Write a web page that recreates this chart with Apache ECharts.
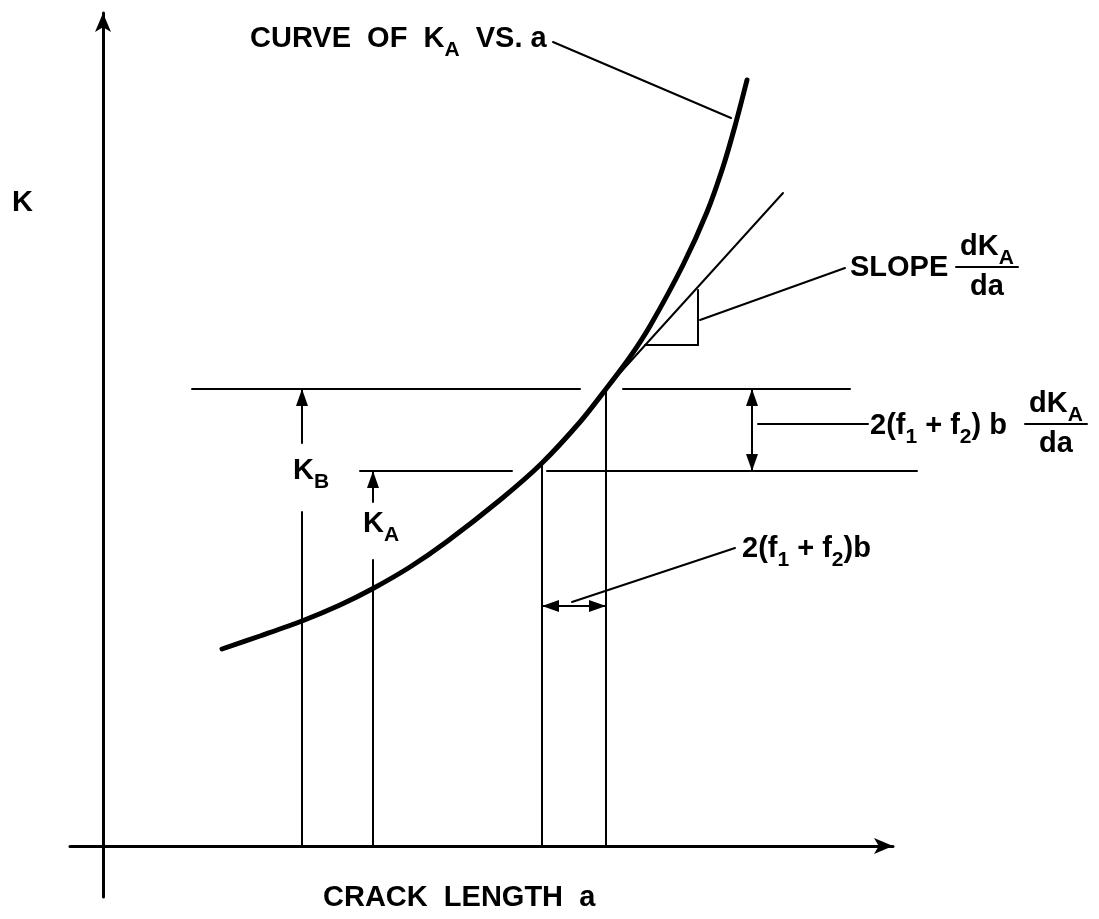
<!DOCTYPE html>
<html>
<head>
<meta charset="utf-8">
<title>K vs crack length</title>
<script src="https://cdn.jsdelivr.net/npm/echarts@6/dist/echarts.min.js"></script>
<style>
  html, body { margin: 0; padding: 0; background: #fff; }
  #chart { width: 1099px; height: 919px; }
</style>
</head>
<body>
<div id="chart"></div>
<script>
// sketch units: a = crack length, K = stress intensity (origin where the axes cross)

// curve of K_A vs. a
const curveA = [11.9, 15.7, 19.9, 23.7, 27.0, 30.7, 34.4, 39.7, 43.8, 47.7, 50.3, 52.7, 54.7, 58.0, 60.4, 62.0, 63.2, 64.4];
const curveK = [19.7, 21.0, 22.5, 24.1, 25.75, 27.9, 30.45, 34.6, 38.2, 42.4, 45.7, 48.9, 52.0, 58.1, 63.4, 67.9, 72.0, 76.6];

// thin construction lines [a1, K1, a2, K2]
const guideLines = [
	[8.9, 45.7, 47.7, 45.7],    // K_B level
	[52.0, 45.7, 74.7, 45.7],
	[25.7, 37.5, 40.9, 37.5],   // K_A level
	[44.4, 37.5, 81.4, 37.5],
	[19.9, 0, 19.9, 33.4],
	[27.0, 0, 27.0, 28.6],
	[43.9, 0, 43.9, 38.3],
	[50.3, 0, 50.3, 45.7],
	[49.7, 45.1, 68.0, 65.3],   // tangent
	[59.5, 55.6, 59.5, 50.1],   // slope triangle
	[54.2, 50.1, 59.5, 50.1],
	[59.7, 52.6, 74.2, 57.8],   // leader to SLOPE
	[45.0, 80.4, 62.8, 72.8],   // leader to curve title
	[65.5, 42.2, 76.5, 42.2],   // leader to K difference
	[46.9, 24.4, 63.2, 29.8]    // leader to crack step
];

// lines with arrowheads [a1, K1, a2, K2, heads]  heads: 1 = at end, 2 = both ends
const arrowLines = [
	[19.9, 40.3, 19.9, 45.7, 1],
	[27.0, 34.4, 27.0, 37.5, 1],
	[64.9, 37.5, 64.9, 45.7, 2],
	[43.9, 24.0, 50.3, 24.0, 2]
];

// labels, anchored at left end of the baseline ( _X = subscript )
const labelText = ['CURVE  OF  K_A  VS. a', 'K', 'SLOPE', '2(f_1 + f_2) b', 'K_B', 'K_A', '2(f_1 + f_2)b', 'CRACK  LENGTH  a'];
const labelA = [14.7, -9.1, 74.7, 76.7, 19.0, 26.0, 63.9, 22.0];
const labelK = [79.8, 63.4, 56.9, 41.1, 36.6, 31.3, 28.8, -6.1];

// fractions dK_A / da, anchored at left end of the bar
const fracNum = ['dK_A', 'dK_A'];
const fracDen = ['da', 'da'];
const fracA = [85.3, 92.2];
const fracK = [57.9, 42.2];

var fontFamily = '"Liberation Sans", Arial, sans-serif';
var richStyles = {
	m: { fontSize: 29, fontWeight: 'bold', fontFamily: fontFamily, lineHeight: 44, verticalAlign: 'middle', fill: '#000' },
	s: { fontSize: 21, fontWeight: 'bold', fontFamily: fontFamily, lineHeight: 20, verticalAlign: 'bottom', fill: '#000' }
};

function toRich(str) {
	return str.split(/(_\w)/).filter(function (t) { return t.length > 0; }).map(function (t) {
		return t[0] === '_' ? '{s|' + t.slice(1) + '}' : '{m|' + t + '}';
	}).join('');
}

function segment(p1, p2, w) {
	return {
		type: 'line',
		shape: { x1: p1[0], y1: p1[1], x2: p2[0], y2: p2[1] },
		style: { stroke: '#000', lineWidth: w, lineCap: 'round' }
	};
}

function arrowHead(tip, from) {
	var dx = tip[0] - from[0], dy = tip[1] - from[1];
	var d = Math.sqrt(dx * dx + dy * dy) || 1;
	var ux = dx / d, uy = dy / d;
	var len = 17, half = 6;
	var bx = tip[0] - ux * len, by = tip[1] - uy * len;
	return {
		type: 'polygon',
		shape: { points: [tip, [bx - uy * half, by + ux * half], [bx + uy * half, by - ux * half]] },
		style: { fill: '#000' }
	};
}

var chart = echarts.init(document.getElementById('chart'), null, { renderer: 'canvas' });

chart.setOption({
	backgroundColor: '#fff',
	animation: false,
	grid: { left: 70, right: 206, top: 13, bottom: 22, outerBoundsMode: 'none' },
	xAxis: {
		type: 'value', min: -3.3, max: 79.0,
		axisLine: { show: true, onZero: true, symbol: ['none', 'arrow'], symbolSize: [12, 19], lineStyle: { color: '#000', width: 3 } },
		axisTick: { show: false }, axisLabel: { show: false }, splitLine: { show: false }
	},
	yAxis: {
		type: 'value', min: -5.1, max: 83.3,
		axisLine: { show: true, onZero: true, symbol: ['none', 'arrow'], symbolSize: [12, 19], lineStyle: { color: '#000', width: 3 } },
		axisTick: { show: false }, axisLabel: { show: false }, splitLine: { show: false }
	},
	series: [
		{
			type: 'line',
			data: curveA.map(function (a, i) { return [a, curveK[i]]; }),
			smooth: 0.3,
			showSymbol: false,
			silent: true,
			lineStyle: { color: '#000', width: 5, cap: 'round' }
		},
		{
			type: 'custom',
			clip: false,
			silent: true,
			data: guideLines,
			renderItem: function (params, api) {
				var p1 = api.coord([api.value(0), api.value(1)]);
				var p2 = api.coord([api.value(2), api.value(3)]);
				return segment(p1, p2, 2);
			}
		},
		{
			type: 'custom',
			clip: false,
			silent: true,
			data: arrowLines,
			renderItem: function (params, api) {
				var p1 = api.coord([api.value(0), api.value(1)]);
				var p2 = api.coord([api.value(2), api.value(3)]);
				var children = [segment(p1, p2, 2), arrowHead(p2, p1)];
				if (api.value(4) === 2) children.push(arrowHead(p1, p2));
				return { type: 'group', children: children };
			}
		},
		{
			type: 'custom',
			clip: false,
			silent: true,
			data: labelA.map(function (a, i) { return [a, labelK[i], i]; }),
			renderItem: function (params, api) {
				var p = api.coord([api.value(0), api.value(1)]);
				return {
					type: 'text',
					x: p[0],
					y: p[1] - 31,
					style: {
						text: toRich(labelText[api.value(2)]),
						align: 'left',
						verticalAlign: 'top',
						fill: '#000',
						rich: richStyles
					}
				};
			}
		},
		{
			type: 'custom',
			clip: false,
			silent: true,
			data: fracA.map(function (a, i) { return [a, fracK[i], i]; }),
			renderItem: function (params, api) {
				var p = api.coord([api.value(0), api.value(1)]);
				var i = api.value(2);
				var w = 62;
				return {
					type: 'group',
					children: [
						segment([p[0], p[1]], [p[0] + w, p[1]], 2),
						{
							type: 'text', x: p[0] + w / 2, y: p[1] - 42,
							style: { text: toRich(fracNum[i]), align: 'center', verticalAlign: 'top', rich: richStyles }
						},
						{
							type: 'text', x: p[0] + w / 2, y: p[1] - 2,
							style: { text: toRich(fracDen[i]), align: 'center', verticalAlign: 'top', rich: richStyles }
						}
					]
				};
			}
		}
	]
});

window.addEventListener('resize', function () {
	chart.resize();
});
</script>
</body>
</html>
